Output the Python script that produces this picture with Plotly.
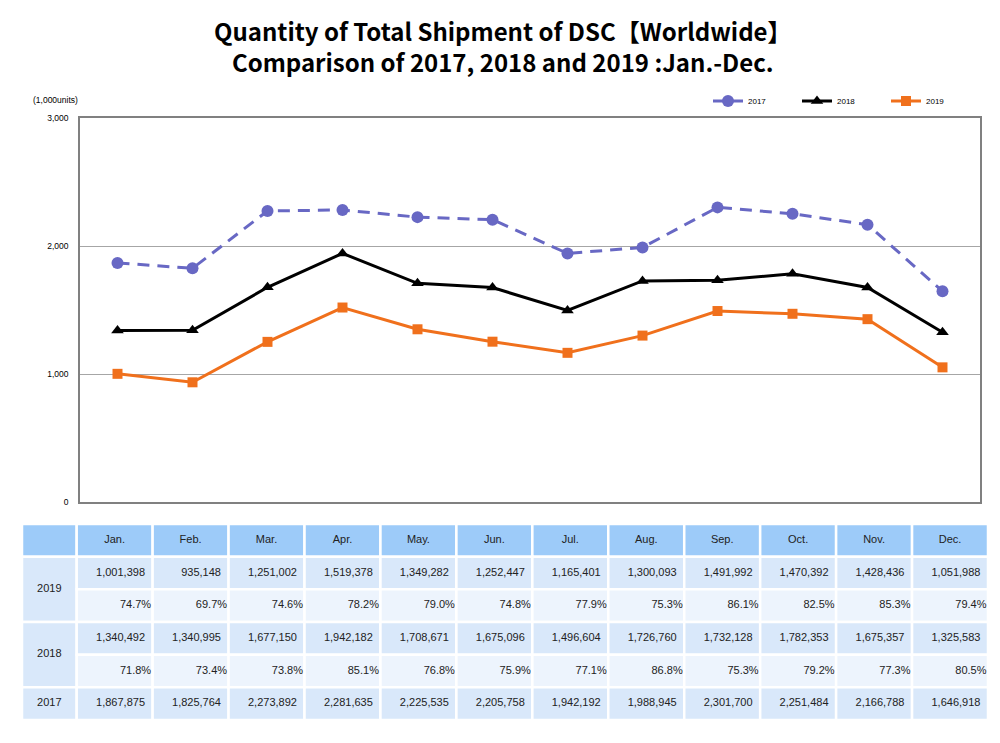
import plotly.graph_objects as go

months = ["Jan.", "Feb.", "Mar.", "Apr.", "May.", "Jun.", "Jul.", "Aug.", "Sep.", "Oct.", "Nov.", "Dec."]
ship_2019 = [1001398, 935148, 1251002, 1519378, 1349282, 1252447, 1165401, 1300093, 1491992, 1470392, 1428436, 1051988]
ratio_2019 = ["74.7%", "69.7%", "74.6%", "78.2%", "79.0%", "74.8%", "77.9%", "75.3%", "86.1%", "82.5%", "85.3%", "79.4%"]
ship_2018 = [1340492, 1340995, 1677150, 1942182, 1708671, 1675096, 1496604, 1726760, 1732128, 1782353, 1675357, 1325583]
ratio_2018 = ["71.8%", "73.4%", "73.8%", "85.1%", "76.8%", "75.9%", "77.1%", "86.8%", "75.3%", "79.2%", "77.3%", "80.5%"]
ship_2017 = [1867875, 1825764, 2273892, 2281635, 2225535, 2205758, 1942192, 1988945, 2301700, 2251484, 2166788, 1646918]

# the page body has an 8px margin, so the figure is 16px smaller than the window
PAD = 8
W, H = 1000 - 2 * PAD, 743 - 2 * PAD
FONT = "Liberation Sans, Arial, sans-serif"
TITLE_FONT = "Noto Sans CJK JP, sans-serif"


def px(x):
    return (x - PAD) / W


def py(y):
    return 1 - (y - PAD) / H


fig = go.Figure()

# ---- line chart (values in 1,000 units)
series = [
    ("2017", ship_2017, "#6868c4", "12px,8px", "circle", 12),
    ("2018", ship_2018, "#000000", "solid", "triangle-up", 11),
    ("2019", ship_2019, "#f0701c", "solid", "square", 10),
]
for name, vals, col, dash, sym, ms in series:
    fig.add_trace(go.Scatter(
        x=months, y=[v / 1000 for v in vals], name=name, mode="lines+markers",
        line=dict(color=col, width=3, dash=dash),
        marker=dict(symbol=sym, size=ms, color=col),
        xaxis="x", yaxis="y",
    ))

# ---- table drawn on its own axes: columns -0.72..0 (year label), 0..12 months; rows 0..6
label_w = 0.72
header_col = "#9dcbf9"
val_col = "#d9e8fa"
pct_col = "#edf4fd"
shapes = []


def cell(x0, x1, y0, y1, color):
    shapes.append(dict(type="rect", xref="x2", yref="y2", x0=x0, x1=x1, y0=y0, y1=y1,
                       fillcolor=color, line=dict(color="white", width=2.5), layer="below"))


# header row
cell(-label_w, 0, 0, 1, header_col)
for i in range(12):
    cell(i, i + 1, 0, 1, header_col)
# year label cells (merged)
cell(-label_w, 0, 1, 3, val_col)
cell(-label_w, 0, 3, 5, val_col)
cell(-label_w, 0, 5, 6, val_col)
for i in range(12):
    cell(i, i + 1, 1, 2, val_col)
    cell(i, i + 1, 2, 3, pct_col)
    cell(i, i + 1, 3, 4, val_col)
    cell(i, i + 1, 4, 5, pct_col)
    cell(i, i + 1, 5, 6, val_col)

cx = [i + 0.5 for i in range(12)]
tfont = dict(family=FONT, size=11, color="#222222")
fig.add_trace(go.Scatter(x=cx, y=[0.5] * 12, text=months, mode="text",
                         textposition="middle center", textfont=tfont,
                         xaxis="x2", yaxis="y2", showlegend=False, hoverinfo="skip"))
fig.add_trace(go.Scatter(x=[-label_w / 2] * 3, y=[2, 4, 5.5], text=["2019", "2018", "2017"],
                         mode="text", textposition="middle center", textfont=tfont,
                         xaxis="x2", yaxis="y2", showlegend=False, hoverinfo="skip"))
val_x = [i + 0.9 for i in range(12)]
pct_x = [i + 0.98 for i in range(12)]
for row, vals in [(1.5, ship_2019), (3.5, ship_2018), (5.5, ship_2017)]:
    fig.add_trace(go.Scatter(x=val_x, y=[row] * 12, text=[f"{v:,}" for v in vals], mode="text",
                             textposition="middle left", textfont=tfont,
                             xaxis="x2", yaxis="y2", showlegend=False, hoverinfo="skip"))
for row, vals in [(2.5, ratio_2019), (4.5, ratio_2018)]:
    fig.add_trace(go.Scatter(x=pct_x, y=[row] * 12, text=vals, mode="text",
                             textposition="middle left", textfont=tfont,
                             xaxis="x2", yaxis="y2", showlegend=False, hoverinfo="skip"))

title_text = ("<b>Quantity of Total Shipment of DSC【Worldwide】<br>"
              "Comparison of 2017, 2018 and 2019 :Jan.-Dec.</b>")
annotations = [
    dict(text=title_text, xref="paper", yref="paper", x=px(503), y=py(46),
         xanchor="center", yanchor="middle", align="center", showarrow=False,
         font=dict(family=TITLE_FONT, size=24, color="#000000")),
    dict(text="(1,000units)", xref="paper", yref="paper", x=px(31), y=py(100),
         xanchor="left", yanchor="middle", showarrow=False, font=dict(size=8.5)),
]

fig.update_layout(
    width=W, height=H,
    margin=dict(l=0, r=0, t=0, b=0, autoexpand=False),
    paper_bgcolor="white", plot_bgcolor="white",
    font=dict(family=FONT, size=8, color="#000000"),
    xaxis=dict(domain=[px(80), px(980)], range=[-0.5, 11.5], showticklabels=False,
               showline=True, linecolor="#808080", linewidth=1.5, mirror=True,
               showgrid=False, ticks="", anchor="y"),
    yaxis=dict(domain=[py(502), py(118)], range=[0, 3000], dtick=1000,
               tickformat=",", showline=True, linecolor="#808080", linewidth=1.5, mirror=True,
               gridcolor="#a6a6a6", gridwidth=1, zeroline=False, ticks="", anchor="x",
               tickfont=dict(size=8.5), ticklabelstandoff=8),
    xaxis2=dict(domain=[px(22), px(988)], range=[-label_w, 12], visible=False, anchor="y2"),
    yaxis2=dict(domain=[py(720), py(524)], range=[6, 0], visible=False, anchor="x2"),
    shapes=shapes,
    legend=dict(orientation="h", x=px(708), xanchor="left", y=py(101), yanchor="middle",
                font=dict(size=8), itemwidth=30, entrywidth=44, entrywidthmode="pixels",
                bgcolor="rgba(0,0,0,0)", tracegroupgap=0),
    annotations=annotations,
    showlegend=True,
)

fig.write_html("out.html")
